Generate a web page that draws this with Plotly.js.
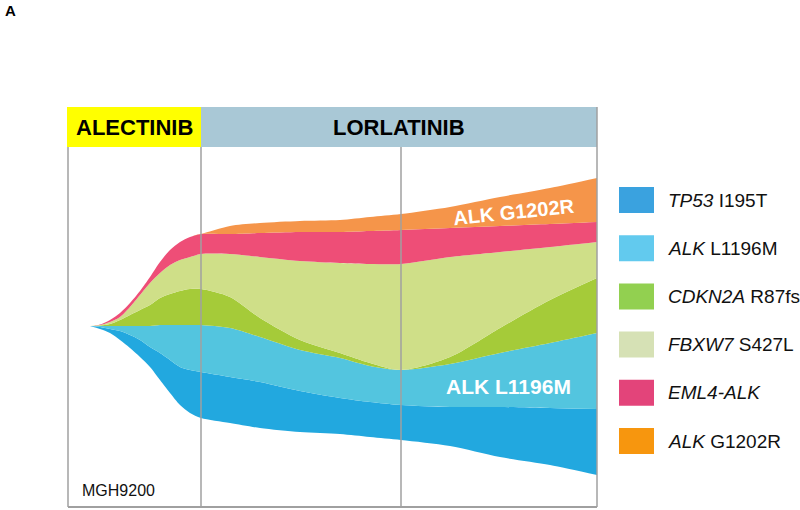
<!DOCTYPE html>
<html>
<head>
<meta charset="utf-8">
<script src="https://cdn.plot.ly/plotly-3.0.1.min.js"></script>
<style>
  html, body { margin: 0; padding: 0; background: #fff; }
  #chart { width: 800px; height: 510px; }
</style>
</head>
<body>
<div id="chart"></div>
<script>
// time axis (arbitrary units across the treatment course)
const xPos = [22, 32, 42, 52, 62, 72, 82, 92, 102, 112, 122, 133, 162, 192, 232, 272, 302, 333, 382, 432, 482, 529];
// bottom edge of the fish (centering offset)
const baseline = [181, 178, 174, 167, 159, 150, 140, 127, 114, 102, 94, 89, 84, 79, 75, 73, 70, 67, 61, 50, 42, 32];
// clone sizes, stacked bottom to top
const tp53 = [0, 2, 4, 9, 13, 17, 20, 27, 33, 38, 43, 46, 46, 46, 41, 36, 35, 35, 39, 50, 57, 66];
const alkL1196M = [0, 1, 3, 5, 9, 14, 21, 28, 35, 42, 45, 47, 49, 45, 41, 40, 36, 35, 43, 54, 65, 76];
const cdkn2a = [0, 0.5, 2, 6, 11, 16, 21, 27, 31, 34, 36, 36, 31, 19, 10, 5, 3, 0, 7, 25, 43, 55];
const fbxw7 = [0, 0.5, 2, 3, 8, 15, 22, 25, 29, 31, 32, 35, 43, 61, 79, 90, 99, 106, 100, 76, 53, 36];
const eml4alk = [0, 0.5, 2, 4, 4, 4, 6, 11, 15, 18, 20, 20, 20, 24, 29, 31, 33, 34, 29, 26, 23, 20];
const alkG1202R = [0, 0, 0, 0, 0, 0, 0, 0, 0, 0, 0, 0, 8, 10, 11, 12, 14, 16, 21, 29, 36, 44];

const areaColors = ['#22a8df', '#53c5df', '#a5cb39', '#cfdf88', '#ee4e77', '#f5954a'];
const legendGenes = ['TP53', 'ALK', 'CDKN2A', 'FBXW7', 'EML4-ALK', 'ALK'];
const legendChanges = ['I195T', 'L1196M', 'R87fs', 'S427L', '', 'G1202R'];
const legendColors = ['#3aa2df', '#62caee', '#92d050', '#d6e1b5', '#e3447a', '#f7960e'];

const phaseNames = ['ALECTINIB', 'LORLATINIB'];
const phaseColors = ['#ffff00', '#a9c8d6'];
const sampleTimes = [133, 333];

const FONT = 'Liberation Sans, Arial, sans-serif';
// pixel -> paper helpers for the decorations around the plot
const L = 68, T = 147, W = 529, H = 360;
const px = x => (x - L) / W;
const py = y => (T + H - y) / H;

const clones = [tp53, alkL1196M, cdkn2a, fbxw7, eml4alk, alkG1202R];
const traces = [{
  x: xPos, y: baseline, stackgroup: 'fish', mode: 'lines',
  line: { width: 0, shape: 'spline', smoothing: 0.8 },
  fillcolor: 'rgba(0,0,0,0)', hoverinfo: 'skip', showlegend: false
}];
clones.forEach((vals, i) => {
  traces.push({
    x: xPos, y: vals, stackgroup: 'fish', mode: 'lines',
    line: { width: 0, shape: 'spline', smoothing: 0.8, color: areaColors[i] },
    fillcolor: areaColors[i], hoverinfo: 'skip', showlegend: false
  });
});

const shapes = [];
const annotations = [];

// treatment header bands
const bandEdges = [px(67), px(201), 1];
phaseNames.forEach((name, i) => {
  shapes.push({
    type: 'rect', xref: 'paper', yref: 'paper',
    x0: bandEdges[i], x1: bandEdges[i + 1], y0: 1, y1: py(107),
    fillcolor: phaseColors[i], line: { width: 0 }, layer: 'above'
  });
  annotations.push({
    xref: 'paper', yref: 'paper', x: (bandEdges[i] + bandEdges[i + 1]) / 2, y: py(128),
    text: '<b>' + name + '</b>', showarrow: false, xanchor: 'center', yanchor: 'middle',
    font: { family: FONT, size: 22, color: '#000' }
  });
});

// frame and sample lines
const frameColor = '#a0a0a0';
shapes.push({ type: 'line', xref: 'paper', yref: 'paper', x0: 0, x1: 0, y0: 0, y1: 1, line: { color: frameColor, width: 1.5 }, layer: 'above' });
shapes.push({ type: 'line', xref: 'paper', yref: 'paper', x0: 1, x1: 1, y0: 0, y1: py(107), line: { color: frameColor, width: 1.5 }, layer: 'above' });
shapes.push({ type: 'line', xref: 'paper', yref: 'paper', x0: 0, x1: 1, y0: 0, y1: 0, line: { color: frameColor, width: 2 }, layer: 'above' });
sampleTimes.forEach(t => {
  shapes.push({ type: 'line', xref: 'x', yref: 'paper', x0: t, x1: t, y0: 0, y1: 1, line: { color: frameColor, width: 1.5 }, layer: 'above' });
});

// legend
legendGenes.forEach((g, i) => {
  const cy = 200 + i * 48.2;
  shapes.push({
    type: 'rect', xref: 'paper', yref: 'paper',
    x0: px(619), x1: px(654), y0: py(cy + 13), y1: py(cy - 13),
    fillcolor: legendColors[i], line: { width: 0 }
  });
  const label = '<i>' + g + '</i>' + (legendChanges[i] ? ' ' + legendChanges[i] : '');
  annotations.push({
    xref: 'paper', yref: 'paper', x: px(666), y: py(cy),
    text: label, showarrow: false, xanchor: 'left', yanchor: 'middle',
    font: { family: FONT, size: 19, color: '#111' }
  });
});

// in-plot labels
annotations.push({
  xref: 'x', yref: 'y', x: 446, y: 295, text: '<b>ALK G1202R</b>', showarrow: false,
  textangle: -6, font: { family: FONT, size: 20, color: '#fff' }
});
annotations.push({
  xref: 'x', yref: 'y', x: 440, y: 121, text: '<b>ALK L1196M</b>', showarrow: false,
  font: { family: FONT, size: 21, color: '#fff' }
});
annotations.push({
  xref: 'paper', yref: 'paper', x: px(80), y: py(490), text: 'MGH9200', showarrow: false,
  xanchor: 'left', yanchor: 'middle', font: { family: FONT, size: 16, color: '#111' }
});
annotations.push({
  xref: 'paper', yref: 'paper', x: px(3), y: py(10), text: '<b>A</b>', showarrow: false,
  xanchor: 'left', yanchor: 'middle', font: { family: FONT, size: 15, color: '#000' }
});

const layout = {
  width: 800, height: 510,
  margin: { l: L, r: 800 - L - W, t: T, b: 510 - T - H },
  paper_bgcolor: '#fff', plot_bgcolor: '#fff',
  xaxis: { range: [0, W], visible: false, fixedrange: true },
  yaxis: { range: [0, H], visible: false, fixedrange: true },
  showlegend: false,
  shapes: shapes,
  annotations: annotations
};

Plotly.newPlot('chart', traces, layout, { displayModeBar: false, staticPlot: true });
</script>
</body>
</html>
